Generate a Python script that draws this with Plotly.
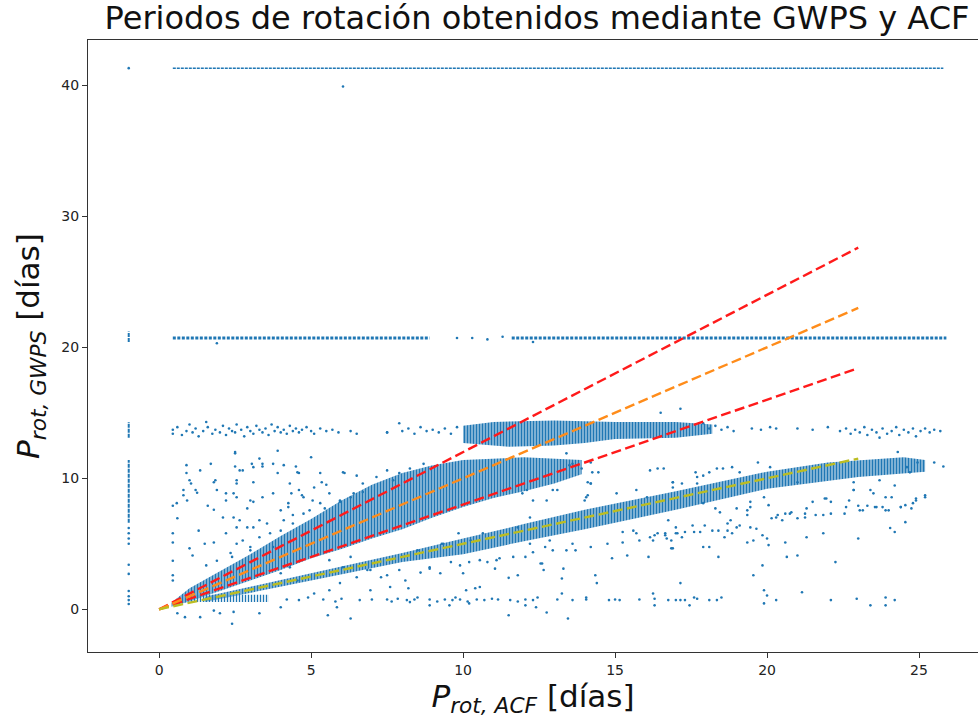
import plotly.graph_objects as go

BLUE = "#1f77b4"

# ---------------- data (data units) ----------------
# envelopes of the densely populated regions (upper edge then lower edge)
wedge_top = [(0.4, 0.5), (1, 1.6), (2, 2.9), (3, 4.2), (4, 5.6), (5, 6.9), (6, 8.3), (7, 9.5),
             (8, 10.4), (9, 11.0), (10, 11.4), (12, 11.6), (13.9, 11.4)]
wedge_bottom = [(13.9, 10.3), (13, 9.6), (12, 9.0), (11, 8.5), (10, 7.8), (9, 7.0), (8, 6.1),
                (7, 5.4), (6, 4.6), (5, 3.9), (4, 3.0), (3, 2.2), (2, 1.4), (1, 0.6), (0.4, 0.2)]
half_top = [(1.5, 0.95), (5, 2.75), (8, 4.3), (10, 5.4), (12, 6.5), (14, 7.6), (17, 9.0),
            (20, 10.5), (22, 11.2), (24.5, 11.6), (25.2, 11.4)]
half_bottom = [(25.2, 10.5), (23, 10.1), (20, 9.2), (17, 7.6), (14, 6.1), (12, 5.2), (10, 4.2),
               (8, 3.6), (5, 2.2), (1.5, 0.55)]
row13_dense = [(10, 14.0), (11, 14.3), (13, 14.4), (15, 14.3), (17, 14.3), (18.2, 14.1),
               (18.2, 13.4), (17, 13.1), (15, 13.0), (14, 12.7), (13, 12.5), (11.5, 12.4), (10, 12.7)]
low_cluster = [(1.0, 1.1), (3.6, 1.1), (3.6, 0.55), (1.0, 0.55)]

# horizontal rows of points (x start, x end, y)
rows = [(0.45, 8.9, 20.7), (11.6, 25.9, 20.7)]
row_top = (0.45, 25.8, 41.3)

# column of points at x = -1 (y low, y high)
col_x = -1.0
col_segments = [(6.6, 11.4), (13.1, 14.3), (20.4, 21.2)]
col_points = [6.2, 5.8, 5.4, 5.0, 3.4, 2.7, 1.4, 1.0, 0.7, 0.4, 41.3]

# sparse part of the ~13.7 d row
row13_sparse = [(0.45, 13.7), (0.45, 13.4), (0.6, 13.9), (0.75, 13.3), (0.9, 13.6), (1.0, 14.1),
                (1.1, 13.5), (1.2, 13.8), (1.3, 13.2), (1.45, 13.6), (1.55, 14.3), (1.6, 13.9),
                (1.75, 13.4), (1.85, 13.7), (2.0, 13.5), (2.1, 14.0), (2.2, 13.3), (2.3, 13.8),
                (2.4, 13.6), (2.5, 13.5), (2.55, 14.1), (2.7, 13.7), (2.8, 13.2), (2.9, 13.9),
                (3.0, 13.6), (3.1, 13.4), (3.2, 14.0), (3.3, 13.7), (3.4, 13.5), (3.5, 13.8),
                (3.6, 13.3), (3.7, 14.1), (3.8, 13.6), (3.9, 13.9), (4.0, 13.5), (4.1, 13.7),
                (4.2, 13.4), (4.3, 14.0), (4.4, 13.6), (4.5, 13.8), (4.6, 13.5), (4.7, 13.7),
                (4.85, 13.9), (5.0, 13.6), (5.1, 13.4), (5.3, 13.8), (5.5, 13.6), (5.7, 13.7),
                (5.9, 13.5), (6.3, 13.6), (6.5, 13.4), (7.5, 13.5), (7.9, 14.2), (8.0, 13.6),
                (8.2, 13.8), (8.4, 13.4), (8.6, 13.9), (8.8, 13.6), (9.0, 13.7), (9.2, 13.5),
                (9.4, 13.8), (9.6, 13.4), (9.8, 13.9),
                (17.9, 14.2), (18.1, 13.8), (18.3, 14.0), (18.5, 13.7), (18.7, 13.9), (18.9, 13.6),
                (19.5, 13.8), (19.8, 13.7), (20.1, 13.9), (20.3, 13.8), (21.0, 13.8), (21.5, 13.7),
                (22.0, 13.9), (22.4, 13.6), (22.6, 13.8), (22.75, 13.4), (22.9, 13.7), (23.05, 13.5),
                (23.2, 13.9), (23.3, 13.3), (23.45, 13.7), (23.6, 13.5), (23.7, 13.1), (23.8, 13.8),
                (23.95, 13.4), (24.1, 13.6), (24.25, 13.9), (24.35, 13.3), (24.5, 13.7), (24.65, 13.5),
                (24.8, 13.8), (24.9, 13.2), (25.05, 13.6), (25.2, 13.8), (25.35, 13.5), (25.5, 13.7),
                (25.7, 13.6)]

# isolated points, upper-left region
pts_upper_left = [(0.9, 11.0), (1.7, 11.1), (0.9, 10.4), (1.35, 10.6), (1.05, 9.6), (2.5, 10.9),
                  (2.65, 10.6), (3.05, 11.1), (3.4, 10.9), (3.75, 11.1), (3.9, 10.4), (4.5, 10.9),
                  (4.6, 10.4), (5.3, 10.4), (5.35, 9.7), (6.1, 10.4), (6.5, 10.2), (1.8, 9.7),
                  (2.55, 9.6), (3.1, 9.7), (4.3, 9.6), (1.9, 9.1), (0.8, 9.1), (1.25, 8.9),
                  (2.2, 8.85), (2.55, 8.55), (3.75, 8.85), (4.35, 8.85), (4.75, 8.55), (5.6, 8.85),
                  (6.3, 8.55), (2.5, 11.9), (3.3, 11.5), (0.45, 7.9), (0.58, 8.1), (0.8, 8.7),
                  (0.92, 8.3), (1.0, 9.85), (1.2, 9.1), (1.6, 7.9), (1.8, 7.6), (1.85, 9.85),
                  (2.2, 8.3), (2.45, 8.85), (2.55, 9.85), (2.65, 6.8), (2.9, 7.7), (3.1, 8.2),
                  (3.4, 8.55), (4.0, 7.55), (4.25, 8.1), (4.4, 7.2), (4.6, 9.1), (5.1, 9.3),
                  (5.3, 8.1), (5.5, 9.5), (5.95, 8.3), (6.4, 8.85), (6.7, 9.6), (0.6, 6.95),
                  (0.45, 5.8), (0.45, 5.1), (0.45, 3.7), (0.45, 2.6), (0.45, 2.2), (1.0, 4.65),
                  (1.1, 4.1), (1.3, 6.0), (1.5, 5.0), (1.55, 3.35), (1.8, 5.1), (1.9, 3.7),
                  (2.1, 7.0), (2.2, 5.8), (2.35, 4.3), (2.55, 6.25), (2.75, 5.25), (3.0, 4.75),
                  (3.1, 6.25), (3.3, 5.5), (3.55, 6.55), (3.75, 4.75), (4.0, 6.0), (2.5, 12.0),
                  (2.75, 10.6), (3.1, 10.85), (3.4, 11.1), (4.1, 11.0), (4.55, 10.45), (6.05, 10.45),
                  (3.0, 8.3), (4.25, 7.8), (4.7, 8.7), (5.05, 8.3), (5.45, 7.7), (5.95, 8.2),
                  (6.7, 8.95), (2.45, 7.0), (2.9, 6.25), (3.3, 6.8), (3.65, 5.8), (4.1, 6.8),
                  (4.4, 6.55), (4.75, 7.3), (4.95, 7.55), (2.55, 5.0), (3.0, 4.5), (2.4, 4.0),
                  (7.15, 10.1), (7.5, 10.6), (7.7, 9.85), (7.9, 10.4), (8.25, 10.75), (8.7, 11.1),
                  (3.9, 12.1), (5.0, 11.6), (1.9, 20.3), (6.05, 39.9), (7.5, 13.5)]

# isolated points, middle / lower region
pts_lower = [(4.3, 3.2), (4.55, 2.2), (4.65, 3.75), (5.1, 1.2), (5.6, 1.45), (5.95, 2.0),
             (6.5, 2.45), (6.95, 1.45), (6.85, 3.0), (6.05, 3.2), (0.6, -0.3), (0.85, -0.6),
             (1.35, -0.6), (1.8, -0.1), (2.0, -0.3), (2.4, -1.1), (2.45, -0.2), (3.3, -0.3),
             (4.0, 0.15), (5.55, -0.45), (6.3, -0.7), (5.85, 0.15), (4.0, 2.75), (5.6, 3.75),
             (6.3, 4.0), (6.95, 3.0), (8.0, 4.0), (8.5, 4.5), (8.9, 3.2), (9.35, 5.0),
             (10.0, 2.75), (10.55, 1.7), (11.1, 3.75), (11.65, 4.0), (12.2, 5.0), (12.55, 3.5),
             (12.85, 5.25), (11.8, 6.25), (12.2, 7.0), (12.75, 8.3), (13.1, 9.1), (10.65, 5.8),
             (10.25, 5.25), (9.3, 5.0), (9.85, 5.8), (9.6, 3.6), (9.9, 3.35), (10.2, 3.6),
             (10.55, 3.75), (10.8, 3.6), (11.05, 3.1), (11.2, 3.9), (11.5, 2.4), (11.8, 2.6),
             (12.05, 4.0), (12.3, 4.35), (12.6, 3.5), (12.65, 3.0), (12.7, 4.75), (12.95, 4.5),
             (13.25, 2.35), (13.3, 3.1), (13.4, 4.5), (13.7, 4.5), (13.6, 5.0), (14.2, 4.75),
             (14.35, 2.6), (14.4, 2.0), (14.75, 5.0), (14.9, 3.9), (15.25, 5.1), (15.4, 4.1),
             (15.25, 5.9), (15.6, 6.0), (15.7, 5.8), (15.8, 5.25), (16.1, 4.0), (16.3, 5.65),
             (16.65, 5.8), (16.7, 5.4), (16.9, 4.65), (17.0, 6.25), (17.05, 5.8), (7.3, 2.45),
             (7.5, 2.6), (7.6, 1.7), (7.9, 3.0), (8.1, 2.2), (8.2, 1.6), (8.6, 2.8), (8.9, 3.1),
             (9.25, 2.75), (10.1, 1.45), (10.4, 1.6), (11.5, -0.45), (12.4, 0.15), (12.75, -0.25),
             (13.45, -0.7), (12.05, 0.3), (8.9, 0.3), (9.55, 0.3), (10.2, 0.45), (13.25, 1.2),
             (14.05, 0.9), (11.95, 8.85), (12.1, 9.1), (12.3, 8.3), (12.95, 9.1), (14.1, 8.7),
             (14.2, 9.6), (15.05, 8.85), (15.7, 9.1), (16.05, 8.55), (16.9, 9.7)]

# bottom row of points near y = 0.7
pts_bottom_row = [(4.2, 0.75), (4.6, 0.7), (4.9, 0.9), (5.4, 0.75), (5.8, 0.6), (6.0, 0.8),
                  (6.6, 0.7), (7.0, 0.75), (7.5, 0.75), (7.65, 0.6), (7.85, 0.8), (8.15, 0.7),
                  (8.25, 0.55), (8.4, 0.75), (8.5, 0.9), (8.9, 0.75), (9.15, 0.6), (9.4, 0.75),
                  (9.65, 0.7), (9.75, 0.9), (9.9, 0.75), (10.15, 0.6), (10.45, 0.75), (10.7, 0.7),
                  (10.95, 0.8), (11.15, 0.75), (11.55, 0.7), (11.8, 0.6), (12.05, 0.75),
                  (12.3, 0.7), (12.45, 0.9), (13.1, 0.75), (13.6, 0.7), (14.05, 0.75), (14.8, 0.7),
                  (15.0, 0.75), (15.15, 0.7), (15.8, 0.75), (16.25, 1.2), (16.3, 0.8), (16.3, 0.3),
                  (16.75, 0.7), (17.0, 0.7), (17.15, 2.0), (17.15, 0.7), (17.3, 0.7), (17.45, 0.3),
                  (17.6, 0.9), (17.7, 0.8), (18.1, 0.7), (18.35, 0.7), (18.5, 0.9), (19.9, 1.45),
                  (20.0, 1.05), (19.9, 0.45), (20.3, 0.7), (21.15, 1.3), (22.1, 0.7), (22.95, 0.8),
                  (23.4, 0.3), (23.9, 0.9), (23.9, 0.3), (24.2, 0.7)]

# isolated points, right region
pts_right = [(16.9, 9.3), (17.2, 9.6), (17.7, 9.6), (17.9, 8.1), (18.3, 7.7), (18.45, 7.4),
             (18.7, 6.55), (19.0, 7.7), (19.35, 7.2), (19.45, 8.2), (19.9, 8.55), (20.05, 7.95),
             (20.15, 6.95), (20.3, 7.0), (20.5, 6.8), (20.6, 7.3), (20.8, 7.4), (21.0, 9.7),
             (21.0, 6.95), (21.25, 7.0), (21.3, 7.7), (21.5, 8.2), (21.85, 7.2), (21.9, 8.45),
             (22.1, 7.3), (22.1, 8.2), (22.55, 7.3), (22.7, 8.3), (22.85, 9.1), (22.85, 9.7),
             (23.0, 7.9), (23.15, 7.55), (23.3, 7.9), (23.5, 8.85), (23.6, 7.8), (23.9, 8.55),
             (24.0, 7.55), (24.05, 6.2), (24.2, 5.9), (24.2, 9.45), (24.4, 7.8), (24.55, 7.95),
             (24.55, 6.65), (24.8, 8.1), (24.9, 8.45), (25.2, 8.7), (16.15, 5.5), (16.25, 5.25),
             (16.4, 5.8), (16.65, 5.65), (16.75, 6.8), (16.85, 5.25), (16.85, 4.65), (17.0, 5.8),
             (17.2, 5.5), (17.3, 5.9), (17.55, 6.4), (17.6, 5.9), (17.8, 5.9), (17.9, 4.75),
             (17.95, 6.4), (18.1, 4.75), (18.2, 6.0), (18.4, 6.0), (18.4, 4.0), (18.6, 5.5),
             (18.7, 6.0), (18.8, 6.8), (18.85, 5.8), (19.0, 6.25), (19.1, 6.4), (19.35, 5.1),
             (19.45, 6.25), (19.55, 5.25), (19.65, 6.15), (19.85, 5.65), (20.0, 5.4), (20.05, 4.9),
             (19.55, 2.6), (19.85, 3.35), (20.6, 5.1), (20.65, 4.0), (21.0, 4.1), (21.3, 5.5),
             (21.85, 5.8), (22.25, 3.6), (23.0, 5.4), (13.4, 11.9), (13.5, 11.0), (13.6, 11.1),
             (13.9, 10.75), (14.25, 10.45), (14.45, 10.45), (14.2, 9.6), (14.05, 8.55),
             (14.0, 8.3), (16.15, 10.6), (16.4, 10.75), (16.5, 15.0), (17.15, 15.3), (17.65, 10.45),
             (17.7, 10.1), (17.9, 10.2), (18.1, 10.45), (18.35, 10.75), (18.55, 10.75),
             (18.85, 10.85), (19.1, 10.45), (19.7, 11.2), (20.1, 10.85), (22.85, 9.1), (23.4, 9.1),
             (23.7, 9.85), (24.1, 8.55), (24.3, 12.0), (24.6, 10.85), (24.7, 10.45), (24.95, 11.2),
             (25.2, 8.55), (24.9, 8.3), (23.8, 7.8), (23.9, 7.55), (24.4, 7.8), (24.75, 7.7),
             (22.6, 7.8), (23.05, 7.55), (23.55, 7.8), (21.95, 8.45), (21.25, 7.3), (21.6, 7.2),
             (20.75, 7.3), (20.35, 7.2), (19.35, 7.55), (19.45, 7.8), (14.2, 11.2), (14.1, 9.7),
             (16.6, 10.75), (16.9, 9.7), (25.5, 11.2), (25.8, 10.9), (9.8, 20.7), (10.3, 20.7),
             (10.8, 20.6), (11.3, 20.8), (12.3, 20.4)]

# reference lines: x end and y end of each line drawn from the origin
ref_x = [0, 23]
upper_y = [0, 27.6]
one_to_one_y = [0, 23]
lower_y = [0, 18.4]
half_y = [0, 11.5]

# ---------------- figure ----------------
fig = go.Figure()


def add_band(points, solidity=0.7):
    fig.add_trace(go.Scatter(
        x=[p[0] for p in points], y=[p[1] for p in points],
        fill="toself", mode="none", fillcolor="rgba(0,0,0,0)",
        fillpattern=dict(shape="|", size=3, solidity=solidity,
                         fgcolor=BLUE, bgcolor="rgba(0,0,0,0)", fillmode="replace"),
        hoverinfo="skip", showlegend=False))


add_band(wedge_top + wedge_bottom, 0.72)
add_band(half_top + half_bottom, 0.72)
add_band(row13_dense, 0.72)
add_band(low_cluster, 0.45)

for x0, x1, yv in rows:
    fig.add_trace(go.Scatter(x=[x0, x1], y=[yv, yv], mode="lines",
                             line=dict(color=BLUE, width=3, dash="3px,1.5px"),
                             hoverinfo="skip", showlegend=False))
fig.add_trace(go.Scatter(x=[row_top[0], row_top[1]], y=[row_top[2], row_top[2]], mode="lines",
                         line=dict(color=BLUE, width=1.5, dash="3px,1px"),
                         hoverinfo="skip", showlegend=False))
for lo, hi in col_segments:
    fig.add_trace(go.Scatter(x=[col_x, col_x], y=[lo, hi], mode="lines",
                             line=dict(color=BLUE, width=2, dash="4px,1px"),
                             hoverinfo="skip", showlegend=False))
fig.add_trace(go.Scatter(x=[col_x] * len(col_points), y=col_points, mode="markers",
                         marker=dict(color=BLUE, size=2.6, line=dict(width=0)),
                         hoverinfo="skip", showlegend=False))

for group in (row13_sparse, pts_upper_left, pts_lower, pts_bottom_row, pts_right):
    fig.add_trace(go.Scatter(x=[p[0] for p in group], y=[p[1] for p in group], mode="markers",
                             marker=dict(color=BLUE, size=2.6, line=dict(width=0)),
                             hoverinfo="skip", showlegend=False))

DASH = "10px,4.5px"
fig.add_trace(go.Scatter(x=ref_x, y=upper_y, mode="lines",
                         line=dict(color="#ff1a1a", width=2.4, dash=DASH), showlegend=False))
fig.add_trace(go.Scatter(x=ref_x, y=lower_y, mode="lines",
                         line=dict(color="#ff1a1a", width=2.4, dash=DASH), showlegend=False))
fig.add_trace(go.Scatter(x=ref_x, y=one_to_one_y, mode="lines",
                         line=dict(color="#ff8c1a", width=2.4, dash=DASH), showlegend=False))
fig.add_trace(go.Scatter(x=ref_x, y=half_y, mode="lines",
                         line=dict(color="#bcbd22", width=2.4, dash=DASH), showlegend=False))

axis_common = dict(showgrid=False, zeroline=False, showline=True, linecolor="#333333",
                   linewidth=1, ticks="outside", ticklen=5, tickwidth=1, tickcolor="#333333",
                   tickfont=dict(family="DejaVu Sans", size=14, color="#222222"),
                   automargin=False)

fig.update_layout(
    width=978, height=724,
    margin=dict(l=88, r=0, t=40, b=72),
    paper_bgcolor="white", plot_bgcolor="white",
    font=dict(family="DejaVu Sans"),
    title=dict(text="Periodos de rotación obtenidos mediante GWPS y ACF",
               font=dict(family="DejaVu Sans", size=32, color="#111111"),
               x=0.5045, xref="paper", xanchor="center",
               y=0.975, yref="container", yanchor="middle"),
    xaxis=dict(range=[-2.34, 26.94], tickvals=[0, 5, 10, 15, 20, 25], mirror=True,
               title=dict(text="<i>P</i><sub><i>rot, ACF</i></sub> [días]",
                          font=dict(family="DejaVu Sans", size=31, color="#111111"),
                          standoff=6),
               **axis_common),
    yaxis=dict(range=[-3.26, 43.45], tickvals=[0, 10, 20, 30, 40],
               title=dict(text="<i>P</i><sub><i>rot, GWPS</i></sub> [días]",
                          font=dict(family="DejaVu Sans", size=31, color="#111111"),
                          standoff=12),
               **axis_common),
)

fig.write_html("out.html")
